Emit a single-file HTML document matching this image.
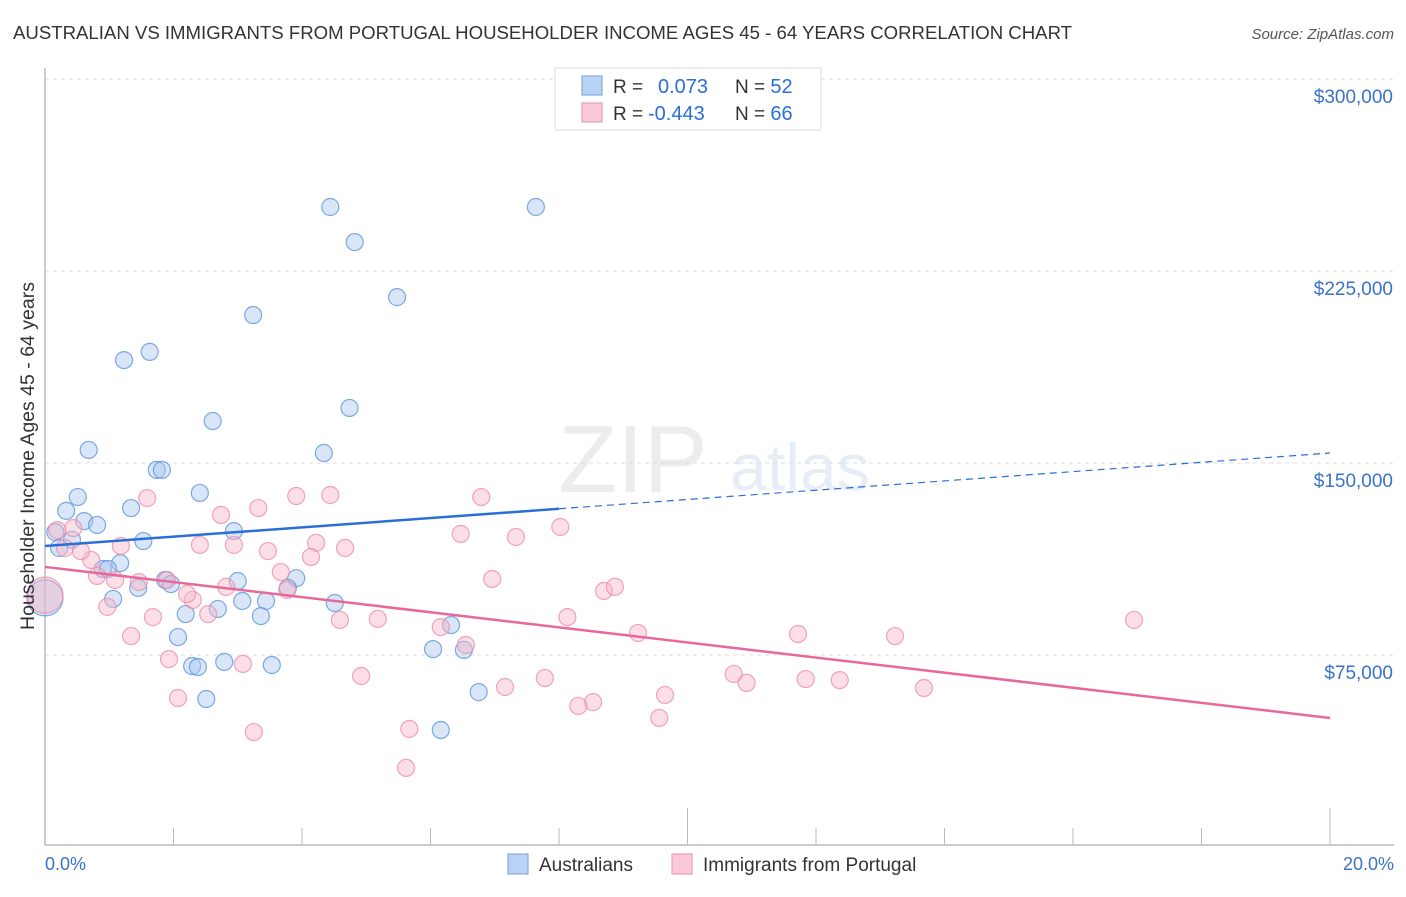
<!DOCTYPE html>
<html><head><meta charset="utf-8"><style>
body{margin:0;background:#fff;font-family:"Liberation Sans",sans-serif}
svg text{font-family:"Liberation Sans",sans-serif}
</style></head><body>
<svg id="chart" width="1406" height="892" xmlns="http://www.w3.org/2000/svg">
<text x="13" y="39" font-size="18.6" fill="#333">AUSTRALIAN VS IMMIGRANTS FROM PORTUGAL HOUSEHOLDER INCOME AGES 45 - 64 YEARS CORRELATION CHART</text>
<text x="1394" y="39" font-size="15" fill="#555" font-style="italic" text-anchor="end">Source: ZipAtlas.com</text>
<g opacity="0.18">
<text x="633" y="492" font-size="96" font-family="Liberation Serif" fill="#999" text-anchor="middle">ZIP</text>
<text x="800" y="490" font-size="66" fill="#7aa0d8" text-anchor="middle">atlas</text>
</g>
<g id="grid"></g><g id="axes"></g><g id="pts"></g><g id="lines"></g>
<text transform="translate(34,456) rotate(-90)" font-size="19.5" fill="#333" text-anchor="middle">Householder Income Ages 45 - 64 years</text>
<text x="45" y="870" font-size="18" fill="#3b72c8">0.0%</text>
<text x="1394" y="870" font-size="18" fill="#3b72c8" text-anchor="end">20.0%</text>
<g>
<rect x="508" y="854" width="20" height="20" fill="#b9d3f5" stroke="#6fa0e0"/>
<text x="539" y="871" font-size="19" fill="#333">Australians</text>
<rect x="672" y="854" width="20" height="20" fill="#fac8d8" stroke="#eb8fae"/>
<text x="703" y="871" font-size="19" fill="#333">Immigrants from Portugal</text>
</g>
<g>
<rect x="555" y="68" width="266" height="62" fill="#fff" stroke="#ddd"/>
<rect x="582" y="76" width="20" height="19" fill="#b9d3f5" stroke="#6fa0e0"/>
<rect x="582" y="103" width="20" height="19" fill="#fac8d8" stroke="#eb8fae"/>
<text x="613" y="93" font-size="19" fill="#333">R = <tspan fill="#2a6fd6" x="658" font-size="20">0.073</tspan><tspan x="735">N = </tspan><tspan fill="#2a6fd6" font-size="20">52</tspan></text>
<text x="613" y="120" font-size="19" fill="#333">R = <tspan fill="#2a6fd6" x="648" font-size="20">-0.443</tspan><tspan x="735">N = </tspan><tspan fill="#2a6fd6" font-size="20">66</tspan></text>
</g>
</svg>
<script>
const yTicks=[75000,150000,225000,300000];
const yTickLabels=["$75,000","$150,000","$225,000","$300,000"];
const xTicks=[0,2,4,6,8,10,12,14,16,18,20];
const blueX=[4.44,7.64,4.82,5.48,3.24,1.63,1.23,4.74,2.61,0.68,4.34,1.74,1.82,2.41,0.51,1.34,0.33,0.61,0.81,2.94,1.53,0.42,0.16,0.22,1.17,0.9,0.98,1.87,3.0,3.91,1.96,1.45,3.78,1.06,3.07,3.44,4.51,2.19,2.69,3.36,6.32,2.07,6.04,6.52,2.29,2.38,2.79,3.53,6.75,2.51,6.16,0];
const blueY=[250,250,236.3,214.8,207.8,193.4,190.2,171.5,166.4,155.1,153.9,147.3,147.3,138.3,136.7,132.4,131.3,127.3,125.8,123.4,119.5,120,123,116.8,110.9,108.6,108.6,104.3,103.9,105,102.7,101.2,101.2,96.9,96.1,96.1,95.3,91,93,90.2,86.7,82,77.3,77,70.7,70.3,72.3,71.1,60.5,57.8,45.7,97.3];
const pinkX=[16.95,13.23,11.72,9.23,13.68,12.37,11.84,10.72,10.92,9.65,9.56,8.53,8.3,7.78,7.16,8.02,6.79,6.47,7.33,6.96,8.13,8.7,8.87,6.16,6.55,5.67,5.62,4.92,5.18,4.59,4.67,4.44,3.91,4.22,4.14,3.67,3.77,3.32,3.47,3.25,3.08,2.82,2.74,2.94,2.54,2.41,2.3,2.21,2.07,1.93,1.9,1.68,1.59,1.46,1.34,1.18,1.09,0.97,0.81,0.72,0.56,0.44,0.31,0.19,0];
const pinkY=[88.7,82.4,83.2,83.6,62.1,65.2,65.6,67.6,64.1,59.4,50.4,56.6,55.1,66,62.5,125,136.7,122.3,121.1,104.7,89.8,100,101.6,85.9,78.9,46.1,30.9,66.8,89.1,88.7,116.8,137.5,137.1,118.8,113.3,107.4,100.4,132.4,115.6,44.9,71.5,101.6,129.7,118,91,118,96.5,98.8,58.2,73.4,104.3,89.8,136.3,103.5,82.4,117.6,104.3,93.8,105.9,112.1,115.6,124.6,116.8,123.8,98.4];
const blueTrend=[117.6,153.9];
const pinkTrend=[109.4,50.4];
const NS="http://www.w3.org/2000/svg";
const X=p=>45+p*64.25, Y=v=>847-v*2.56;
function mk(parent,tag,attrs){const e=document.createElementNS(NS,tag);for(const k in attrs)e.setAttribute(k,attrs[k]);document.getElementById(parent).appendChild(e);return e;}
yTicks.forEach((t,i)=>{
 const g=mk('grid','line',{x1:45,x2:1394,y1:Y(t/1000),y2:Y(t/1000),stroke:'#ddd','stroke-dasharray':'4,4'});
 
 
 const tx=mk('grid','text',{x:1393,y:Y(t/1000)+24,'font-size':19,fill:'#3b72c8','text-anchor':'end'});
 tx.textContent=yTickLabels[i];
 
 
});
const topLine=mk('grid','line',{x1:45,x2:1394,y1:79,y2:79,stroke:'#ddd','stroke-dasharray':'4,4'});


const ax=mk('axes','line',{x1:45,x2:1394,y1:845,y2:845,stroke:'#bbb','stroke-width':1.5});


const ay=mk('axes','line',{x1:45,x2:45,y1:68,y2:845,stroke:'#bbb','stroke-width':1.5});


xTicks.forEach(t=>{
 const long=(t===10||t===20);
 const l=mk('axes','line',{x1:X(t),x2:X(t),y1:845,y2:long?808:828,stroke:'#bbb'});
 
 
});
function pts(xs,ys,fill,stroke,name){
 xs.forEach((x,i)=>{
  const big=(x===0);
  const c=mk('pts','circle',{cx:X(x),cy:Y(ys[i]),r:big?18:8.5,fill:fill,'fill-opacity':0.45,stroke:stroke,'stroke-opacity':0.8,'stroke-width':1.2});
  
  
 });
}
pts(blueX,blueY,'#a9c8f0','#5f95dc','australians-point');
pts(pinkX,pinkY,'#f6b5c8','#eb8fae','portugal-point');
const bmid=blueTrend[0]+(blueTrend[1]-blueTrend[0])*(8/20);
const b1=mk('lines','line',{x1:X(0),y1:Y(blueTrend[0]),x2:X(8),y2:Y(bmid),stroke:'#2a6fd6','stroke-width':2.5});


const b2=mk('lines','line',{x1:X(8),y1:Y(bmid),x2:X(20),y2:Y(blueTrend[1]),stroke:'#2a6fd6','stroke-width':1.2,'stroke-dasharray':'7,5'});


const p1=mk('lines','line',{x1:X(0),y1:Y(pinkTrend[0]),x2:X(20),y2:Y(pinkTrend[1]),stroke:'#e8689a','stroke-width':2.5});


</script>
</body></html>
